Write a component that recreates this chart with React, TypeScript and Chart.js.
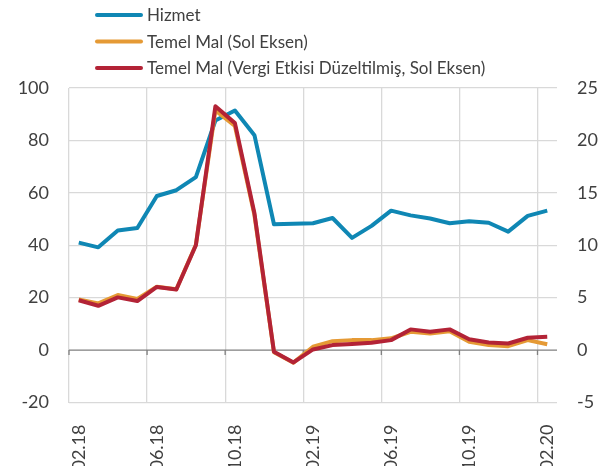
import React, { useEffect, useRef } from "react";
import { Chart, registerables } from "chart.js";

Chart.register(...registerables);

const months = [
  "02.18", "03.18", "04.18", "05.18", "06.18", "07.18", "08.18", "09.18", "10.18", "11.18", "12.18", "01.19",
  "02.19", "03.19", "04.19", "05.19", "06.19", "07.19", "08.19", "09.19", "10.19", "11.19", "12.19", "01.20", "02.20",
];

// Right axis
const hizmet = [
  10.25, 9.8, 11.4, 11.65, 14.7, 15.25, 16.5, 21.9, 22.85, 20.5, 12.0, 12.05,
  12.1, 12.6, 10.7, 11.85, 13.3, 12.85, 12.55, 12.1, 12.3, 12.15, 11.3, 12.8, 13.3,
];

// Left axis
const temelMal = [
  19.3, 17.8, 21.0, 19.5, 24.2, 23.2, 40.2, 91.4, 85.5, 51.5, -0.8, -4.8,
  1.3, 3.4, 3.8, 3.8, 4.5, 7.0, 6.3, 7.2, 3.2, 1.9, 1.5, 3.8, 2.2,
];

const temelMalVergi = [
  19.0, 16.9, 20.1, 18.7, 24.1, 23.1, 40.0, 93.0, 86.6, 52.2, -0.6, -4.7,
  0.25, 1.9, 2.3, 2.8, 3.8, 7.9, 7.0, 7.9, 4.1, 2.9, 2.5, 4.7, 5.1,
];

const legendLabels = ["Hizmet", "Temel Mal (Sol Eksen)", "Temel Mal (Vergi Etkisi Düzeltilmiş, Sol Eksen)"];
const colors = ["#0f87b4", "#e59a35", "#b32336"];

const FONT = "Lato";
const TEXT = "#404040";

const legendPlugin = {
  id: "customLegend",
  afterDraw(chart: any) {
    const ctx = chart.ctx;
    ctx.save();
    const rows = [15, 41.5, 68];
    legendLabels.forEach((label, i) => {
      ctx.strokeStyle = colors[i];
      ctx.lineWidth = 4;
      ctx.lineCap = "round";
      ctx.beginPath();
      ctx.moveTo(97, rows[i]);
      ctx.lineTo(141, rows[i]);
      ctx.stroke();
      ctx.fillStyle = TEXT;
      ctx.font = `17px ${FONT}`;
      ctx.textBaseline = "middle";
      ctx.textAlign = "left";
      ctx.fillText(label, 147, rows[i] + 1);
    });
    ctx.restore();
  },
};

const zeroLinePlugin = {
  id: "zeroLine",
  beforeDatasetsDraw(chart: any) {
    const ctx = chart.ctx;
    const x = chart.scales.x;
    const y = chart.scales.y;
    const py = y.getPixelForValue(0);
    const n = months.length;
    const w = x.width / n;
    ctx.save();
    ctx.strokeStyle = "#808080";
    ctx.lineWidth = 1.3;
    ctx.beginPath();
    ctx.moveTo(x.left, py);
    ctx.lineTo(x.right, py);
    for (let i = 0; i <= n; i += 4) {
      const px = x.left + w * i;
      ctx.moveTo(px, py);
      ctx.lineTo(px, py + 5);
    }
    ctx.stroke();
    ctx.restore();
  },
};

export default function App() {
  const ref = useRef<HTMLCanvasElement>(null);
  useEffect(() => {
    document.body.style.margin = "0";
    const chart = new Chart(ref.current as HTMLCanvasElement, {
      type: "line",
      data: {
        labels: months,
        datasets: [
          { label: legendLabels[0], data: hizmet, borderColor: colors[0], yAxisID: "y1", order: 3 },
          { label: legendLabels[1], data: temelMal, borderColor: colors[1], yAxisID: "y", order: 2 },
          { label: legendLabels[2], data: temelMalVergi, borderColor: colors[2], yAxisID: "y", order: 1 },
        ].map((d) => ({ ...d, borderWidth: 4, pointRadius: 0, tension: 0, fill: false, borderJoinStyle: "round" as const })),
      },
      options: {
        animation: false,
        responsive: false,
        devicePixelRatio: 1,
        layout: { padding: { top: 88, bottom: 0, left: 0, right: 0 } },
        plugins: { legend: { display: false }, tooltip: { enabled: false } },
        scales: {
          x: {
            type: "category",
            offset: true,
            border: { display: false },
            grid: {
              offset: true,
              drawTicks: false,
              lineWidth: 1.3,
              color: (c: any) => (c.index % 4 === 0 && c.index < months.length ? "#d9d9d9" : "rgba(0,0,0,0)"),
            },
            ticks: {
              autoSkip: false,
              maxRotation: 90,
              minRotation: 90,
              padding: 22,
              color: TEXT,
              font: { family: FONT, size: 18 },
              callback: (_v: any, i: number) => (i % 4 === 0 ? months[i] : ""),
            },
            afterFit: (a: any) => {
              a.height = 63.5;
            },
          },
          y: {
            position: "left",
            min: -20,
            max: 100,
            border: { display: false },
            grid: {
              drawTicks: false,
              lineWidth: 1.3,
              color: (c: any) => (c.tick && c.tick.value === 0 ? "rgba(0,0,0,0)" : "#d9d9d9"),
            },
            ticks: { stepSize: 20, padding: 20, color: TEXT, font: { family: FONT, size: 18 } },
            afterFit: (a: any) => {
              a.width = 69;
            },
          },
          y1: {
            position: "right",
            min: -5,
            max: 25,
            border: { display: false },
            grid: { display: false, drawTicks: false },
            ticks: { stepSize: 5, padding: 20, color: TEXT, font: { family: FONT, size: 18 } },
            afterFit: (a: any) => {
              a.width = 44;
            },
          },
        },
      },
      plugins: [zeroLinePlugin, legendPlugin],
    });
    return () => chart.destroy();
  }, []);
  return <canvas ref={ref} width={601} height={466} style={{ display: "block" }} />;
}
